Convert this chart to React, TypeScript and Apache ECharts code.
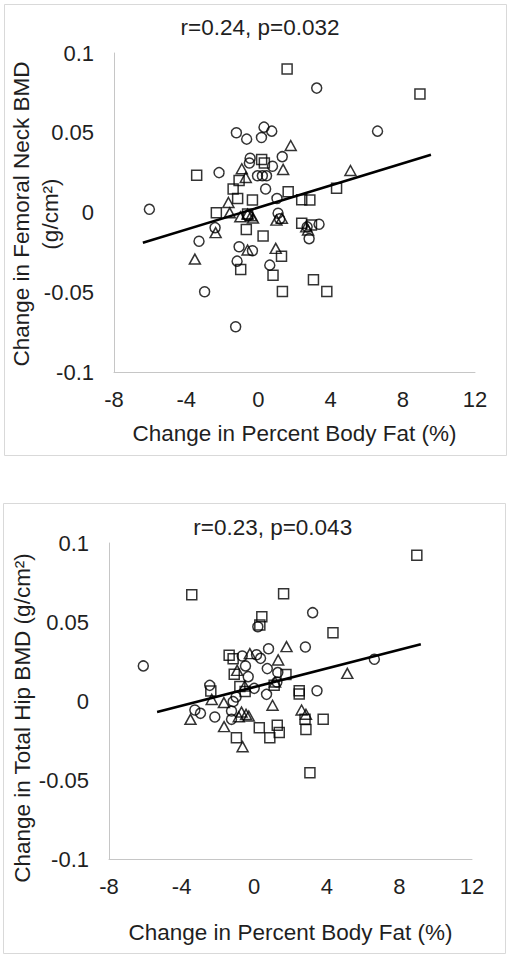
import React, { useEffect, useRef } from "react";
import * as echarts from "echarts";

// ---------- Data: Panel 1 (Femoral Neck BMD) ----------
const fnCircles: number[][] = [
  [-6.04, 0.002], [3.23, 0.078], [6.6, 0.051], [-1.22, 0.05], [-0.65, 0.046],
  [0.31, 0.0535], [0.17, 0.047], [0.74, 0.051], [-0.46, 0.034], [-0.5, 0.031],
  [1.32, 0.035], [0.78, 0.029], [-2.18, 0.025], [-0.05, 0.023], [0.22, 0.023],
  [0.45, 0.023], [0.4, 0.0147], [1.03, 0.0088], [1.09, -0.0005], [1.18, -0.004],
  [-0.57, -0.002], [-2.4, -0.0095], [-3.29, -0.018], [-1.07, -0.0215], [-0.33, -0.024],
  [-1.18, -0.0305], [0.63, -0.033], [-2.98, -0.0497], [-1.26, -0.0716], [3.36, -0.0074],
  [2.81, -0.0164], [2.7, -0.009],
];
const fnSquares: number[][] = [
  [1.59, 0.0899], [8.95, 0.0743], [-3.42, 0.0234], [0.18, 0.0333], [0.33, 0.031],
  [-1.07, 0.02], [-1.4, 0.0147], [-1.15, 0.0088], [-0.33, 0.0078], [1.65, 0.013],
  [4.33, 0.0152], [2.4, 0.008], [2.85, 0.0078], [-2.33, -0.0002], [-0.67, -0.0107],
  [0.26, -0.0147], [2.4, -0.0067], [2.94, -0.0078], [1.28, -0.0274], [-0.98, -0.0358],
  [0.81, -0.0394], [1.33, -0.0495], [3.05, -0.0421], [3.79, -0.0495], [-0.6, -0.001],
];
const fnTriangles: number[][] = [
  [1.79, 0.042], [5.1, 0.0263], [-0.92, 0.0274], [1.37, 0.027], [-0.7, 0.022],
  [-1.66, 0.0063], [-1.59, -0.0002], [-1.0, -0.0027], [-0.6, -0.001], [-0.4, -0.002],
  [-0.3, -0.0035], [1.0, -0.0048], [1.3, -0.0036], [2.65, -0.009], [2.75, -0.011],
  [-2.37, -0.0126], [-3.52, -0.0292], [-0.6, -0.0235], [0.96, -0.0225],
];
const fnTrend: number[][] = [[-6.4, -0.019], [9.56, 0.0362]];

// ---------- Data: Panel 2 (Total Hip BMD) ----------
const thCircles: number[][] = [
  [-6.11, 0.0222], [3.22, 0.0559], [2.82, 0.0342], [3.46, 0.0065], [6.62, 0.0264],
  [0.79, 0.0331], [-0.66, 0.0285], [0.13, 0.0293], [0.35, 0.027], [-0.48, 0.0222],
  [0.72, 0.0205], [-0.33, 0.0154], [1.3, 0.018], [1.25, 0.012], [-2.45, 0.0099],
  [0.0, 0.008], [0.68, 0.0042], [-1.0, 0.0025], [-1.16, -0.0004], [-1.25, -0.0063],
  [-1.25, -0.0116], [-3.27, -0.0057], [-2.96, -0.0078], [-2.17, -0.0101], [0.2, 0.047],
];
const thSquares: number[][] = [
  [-3.44, 0.0673], [1.62, 0.0679], [0.42, 0.0534], [0.31, 0.0481], [8.96, 0.0922],
  [4.34, 0.0432], [-1.38, 0.0289], [-1.16, 0.0268], [-1.1, 0.017], [1.75, 0.0167],
  [-0.79, 0.0091], [-2.39, 0.0063], [2.48, 0.0065], [2.48, 0.0044], [3.8, -0.0116],
  [2.8, -0.0116], [2.85, -0.018], [0.28, -0.0169], [0.86, -0.0232], [1.27, -0.0154],
  [1.38, -0.02], [-0.98, -0.0232], [-0.5, 0.006], [1.1, 0.01], [3.07, -0.0454],
];
const thTriangles: number[][] = [
  [1.78, 0.0344], [5.13, 0.0175], [1.32, 0.026], [-0.24, 0.03], [-0.94, 0.0194],
  [-0.52, 0.0095], [-2.34, 0.001], [-1.67, -0.001], [1.01, -0.0027], [-3.51, -0.0116],
  [-1.66, -0.0162], [-0.64, -0.0289], [-0.7, -0.007], [-0.45, -0.0085], [-0.3, -0.0095],
  [2.61, -0.0057], [2.85, -0.0084], [-0.85, -0.01], [1.15, 0.012],
];
const thTrend: number[][] = [[-5.35, -0.007], [9.18, 0.0359]];

// ---------- Axis / text ----------
const xRange = { min: -8, max: 12, interval: 4 };
const yRange = { min: -0.1, max: 0.1, interval: 0.05 };
const titles = ["r=0.24, p=0.032", "r=0.23, p=0.043"];
const xTitle = "Change in Percent Body Fat (%)";
const yTitles = ["Change in Femoral Neck BMD\n(g/cm²)", "Change in Total Hip BMD (g/cm²)"];

const FONT = "'Liberation Sans', Arial, sans-serif";
const TEXT = "#1f1f1f";
const AXIS = "#c6c6c6";

export default function App() {
  const ref = useRef<HTMLDivElement>(null);
  useEffect(() => {
    document.body.style.margin = "0";
    if (!ref.current) return;
    const chart = echarts.init(ref.current, null, { renderer: "svg" });

    const mkX = (gi: number) => ({
      type: "value",
      gridIndex: gi,
      ...xRange,
      axisLine: { show: true, onZero: false, lineStyle: { color: AXIS, width: 1 } },
      axisTick: { show: false },
      splitLine: { show: false },
      axisLabel: { fontSize: 22, fontFamily: FONT, color: TEXT, margin: 16.5 },
    });
    const mkY = (gi: number) => ({
      type: "value",
      gridIndex: gi,
      ...yRange,
      axisLine: { show: true, onZero: false, lineStyle: { color: AXIS, width: 1 } },
      axisTick: { show: false },
      splitLine: { show: false },
      axisLabel: { fontSize: 22, fontFamily: FONT, color: TEXT, margin: 20 },
    });

    const marker = (data: number[][], symbol: string, gi: number) => ({
      type: "scatter",
      xAxisIndex: gi,
      yAxisIndex: gi,
      data,
      symbol,
      symbolSize: symbol === "triangle" ? [11, 10] : 10,
      itemStyle: { color: "rgba(255,255,255,0)", borderColor: "#000", borderWidth: 1.5 },
      silent: true,
      z: 3,
    });
    const trend = (data: number[][], gi: number) => ({
      type: "line",
      xAxisIndex: gi,
      yAxisIndex: gi,
      data,
      symbol: "none",
      lineStyle: { color: "#000", width: 2.5 },
      silent: true,
      z: 4,
    });

    const txt = (text: string, x: number, y: number, rot = 0) => ({
      type: "text",
      x,
      y,
      rotation: rot,
      silent: true,
      style: {
        text,
        fontSize: 22.5,
        fontFamily: FONT,
        fill: TEXT,
        align: "center",
        verticalAlign: "middle",
        lineHeight: 29,
      },
    });

    chart.setOption({
      animation: false,
      backgroundColor: "#fff",
      grid: [
        { left: 114, top: 53, width: 361, height: 319 },
        { left: 109, top: 543, width: 363, height: 316 },
      ],
      xAxis: [mkX(0), mkX(1)],
      yAxis: [mkY(0), mkY(1)],
      series: [
        marker(fnCircles, "circle", 0),
        marker(fnSquares, "rect", 0),
        marker(fnTriangles, "triangle", 0),
        trend(fnTrend, 0),
        marker(thCircles, "circle", 1),
        marker(thSquares, "rect", 1),
        marker(thTriangles, "triangle", 1),
        trend(thTrend, 1),
      ],
      graphic: [
        {
          type: "rect",
          shape: { x: 4.5, y: 4.5, width: 502, height: 451 },
          style: { fill: "none", stroke: "#d9d9d9", lineWidth: 1 },
          silent: true,
        },
        {
          type: "rect",
          shape: { x: 3.5, y: 503.5, width: 502, height: 450 },
          style: { fill: "none", stroke: "#d9d9d9", lineWidth: 1 },
          silent: true,
        },
        txt(titles[0], 260, 27),
        txt(xTitle, 294.5, 433),
        txt(yTitles[0], 35.5, 214, Math.PI / 2),
        txt(titles[1], 272.7, 527),
        txt(xTitle, 290.5, 932),
        txt(yTitles[1], 22, 718, Math.PI / 2),
      ],
    });
    return () => chart.dispose();
  }, []);
  return <div ref={ref} style={{ width: 510, height: 957 }} />;
}
